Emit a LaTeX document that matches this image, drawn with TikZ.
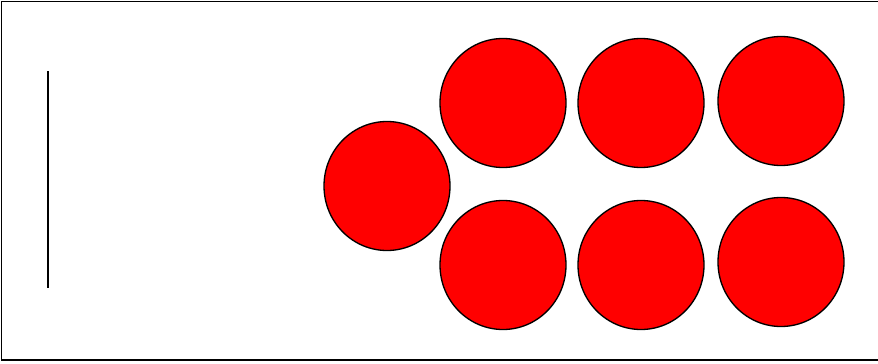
\documentclass[tikz,border=0pt]{standalone}
\usepackage{tikz}
\usetikzlibrary{shapes.geometric}
\definecolor{cball}{HTML}{FF0000}

\begin{document}
\begin{tikzpicture}[
  x=0.75pt,y=-0.75pt,
  ball/.style={draw,ellipse,fill=cball,minimum width=126*0.75pt,minimum height=129*0.75pt,inner sep=0pt,line width=1pt},
  frame/.style={line width=1.4pt}]
  \useasboundingbox (0,0) rectangle (878,364);
  \draw[frame] (879,1.5) -- (1.5,1.5) -- (1.5,360) -- (879,360);
  \coordinate (bartop) at (48,71);
  \coordinate (barbot) at (48,288);
  \draw[line width=1.2pt] (bartop) -- (barbot);
  % lone ball on the left
  \node[ball] (lone) at (387,186) {};
  % two rows of three
  \node[ball] (top1) at (503,103) {};
  \node[ball] (top2) at (641,103) {};
  \node[ball] (top3) at (781,101) {};
  \node[ball] (bot1) at (503,265) {};
  \node[ball] (bot2) at (641,265) {};
  \node[ball] (bot3) at (781,262) {};
\end{tikzpicture}
\end{document}
